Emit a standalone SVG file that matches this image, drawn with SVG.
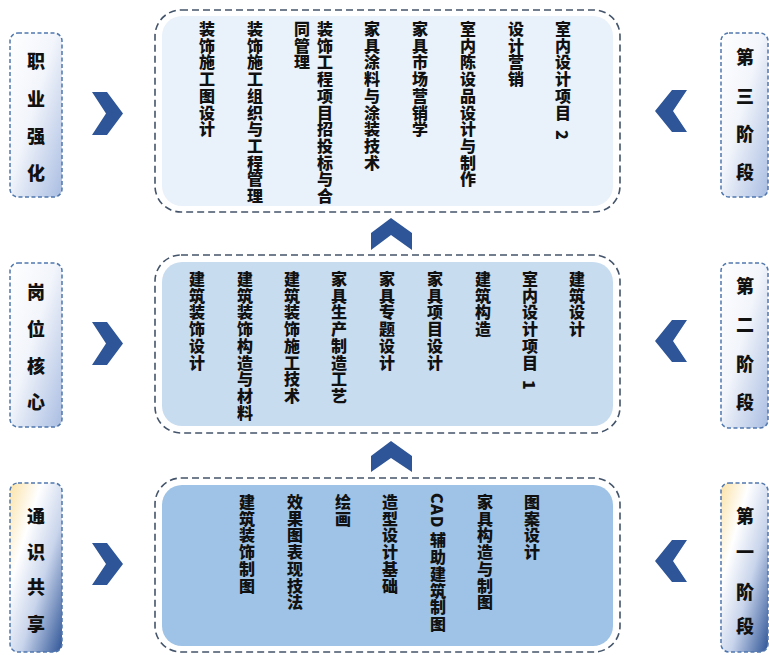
<svg xmlns="http://www.w3.org/2000/svg" width="769" height="655" viewBox="0 0 769 655">
<defs>
<linearGradient id="gLab" x1="0" y1="0" x2="1" y2="1">
<stop offset="0" stop-color="#ffffff"/>
<stop offset="0.45" stop-color="#f2f5fb"/>
<stop offset="1" stop-color="#a9bde2"/>
</linearGradient>
<linearGradient id="gLab2" x1="0" y1="0" x2="1" y2="1">
<stop offset="0" stop-color="#fbe3a8"/>
<stop offset="0.3" stop-color="#ffffff"/>
<stop offset="0.6" stop-color="#c9d5ec"/>
<stop offset="1" stop-color="#2f5597"/>
</linearGradient>
<style>
.outer{fill:#ffffff;stroke:#44546a;stroke-width:1.6;stroke-dasharray:7 4}
.lab{stroke:#4f77ae;stroke-width:1.5;stroke-dasharray:4 2.5}
.lt{font-family:"Noto Sans CJK SC","Noto Sans CJK JP",sans-serif;font-weight:900;font-size:18px;fill:#111;text-anchor:middle}
.vt{font-family:"Noto Sans CJK SC","Noto Sans CJK JP",sans-serif;font-weight:900;font-size:16px;fill:#111;writing-mode:vertical-rl;letter-spacing:0.7px}
.chev{fill:#2e5597}
</style>
</defs>
<rect width="769" height="655" fill="#ffffff"/>

<g id="stage3-box">
<rect class="outer" x="155" y="10" width="465" height="202" rx="26"/>
<rect x="162" y="16" width="451" height="190" rx="20" fill="#e9f1fa"/>
<text class="vt" x="563" y="21" xml:space="preserve">室内设计项目  2</text>
<text class="vt" x="516" y="21">设计营销</text>
<text class="vt" x="468" y="21">室内陈设品设计与制作</text>
<text class="vt" x="420" y="21">家具市场营销学</text>
<text class="vt" x="372" y="21">家具涂料与涂装技术</text>
<text class="vt" x="325" y="21">装饰工程项目招投标与合</text>
<text class="vt" x="302" y="21">同管理</text>
<text class="vt" x="255" y="21">装饰施工组织与工程管理</text>
<text class="vt" x="207" y="21">装饰施工图设计</text>
</g>

<g id="stage2-box">
<rect class="outer" x="155" y="255" width="465" height="178" rx="26"/>
<rect x="162" y="262" width="451" height="164" rx="20" fill="#c8dcf0"/>
<text class="vt" x="577" y="271">建筑设计</text>
<text class="vt" x="530" y="271" xml:space="preserve">室内设计项目  1</text>
<text class="vt" x="483" y="271">建筑构造</text>
<text class="vt" x="435" y="271">家具项目设计</text>
<text class="vt" x="387" y="271">家具专题设计</text>
<text class="vt" x="339" y="271">家具生产制造工艺</text>
<text class="vt" x="292" y="271">建筑装饰施工技术</text>
<text class="vt" x="245" y="271">建筑装饰构造与材料</text>
<text class="vt" x="197" y="271">建筑装饰设计</text>
</g>

<g id="stage1-box">
<rect class="outer" x="155" y="478" width="465" height="174" rx="26"/>
<rect x="162" y="485" width="451" height="161" rx="20" fill="#9ec3e6"/>
<text class="vt" x="532" y="494">图案设计</text>
<text class="vt" x="485" y="494">家具构造与制图</text>
<text class="vt" x="438" y="493">CAD 辅助建筑制图</text>
<text class="vt" x="390" y="494">造型设计基础</text>
<text class="vt" x="343" y="494">绘画</text>
<text class="vt" x="295" y="494">效果图表现技法</text>
<text class="vt" x="247" y="494">建筑装饰制图</text>
</g>

<g id="label-zhiye">
<rect class="lab" x="10" y="33" width="52" height="164" rx="8" fill="url(#gLab)"/>
<text class="lt" x="36" y="68">职</text>
<text class="lt" x="36" y="106">业</text>
<text class="lt" x="36" y="143">强</text>
<text class="lt" x="36" y="180">化</text>
</g>
<g id="label-gangwei">
<rect class="lab" x="10" y="263" width="52" height="164" rx="8" fill="url(#gLab)"/>
<text class="lt" x="36" y="299">岗</text>
<text class="lt" x="36" y="336">位</text>
<text class="lt" x="36" y="373">核</text>
<text class="lt" x="36" y="409">心</text>
</g>
<g id="label-tongshi">
<rect class="lab" x="10" y="483" width="52" height="169" rx="8" fill="url(#gLab2)"/>
<text class="lt" x="36" y="523">通</text>
<text class="lt" x="36" y="559">识</text>
<text class="lt" x="36" y="594">共</text>
<text class="lt" x="36" y="631">享</text>
</g>

<g id="label-stage3">
<rect class="lab" x="721" y="33" width="47" height="164" rx="8" fill="url(#gLab)"/>
<text class="lt" x="745" y="64">第</text>
<text class="lt" x="745" y="103">三</text>
<text class="lt" x="745" y="141">阶</text>
<text class="lt" x="745" y="179">段</text>
</g>
<g id="label-stage2">
<rect class="lab" x="721" y="263" width="47" height="165" rx="8" fill="url(#gLab)"/>
<text class="lt" x="745" y="293">第</text>
<text class="lt" x="745" y="331">二</text>
<text class="lt" x="745" y="371">阶</text>
<text class="lt" x="745" y="409">段</text>
</g>
<g id="label-stage1">
<rect class="lab" x="721" y="483" width="47" height="169" rx="8" fill="url(#gLab2)"/>
<text class="lt" x="745" y="523">第</text>
<text class="lt" x="745" y="559">一</text>
<text class="lt" x="745" y="599">阶</text>
<text class="lt" x="745" y="633">段</text>
</g>

<g id="connectors">
<polygon class="chev" points="92,92 107,92 123,113.5 107,135 92,135 106,113.5"/>
<polygon class="chev" points="92,322 107,322 123,343.5 107,365 92,365 106,343.5"/>
<polygon class="chev" points="92,543 107,543 123,564 107,585 92,585 106,564"/>
<polygon class="chev" points="687,90 672,90 655,111 672,132 687,132 673,111"/>
<polygon class="chev" points="687,320 672,320 655,341 672,362 687,362 673,341"/>
<polygon class="chev" points="687,540 672,540 655,561 672,582 687,582 673,561"/>
<polygon class="chev" points="391,218 412,233 412,250 391,235 371,250 371,233"/>
<polygon class="chev" points="391,441 412,456 412,472 391,458 371,472 371,456"/>
</g>
</svg>
